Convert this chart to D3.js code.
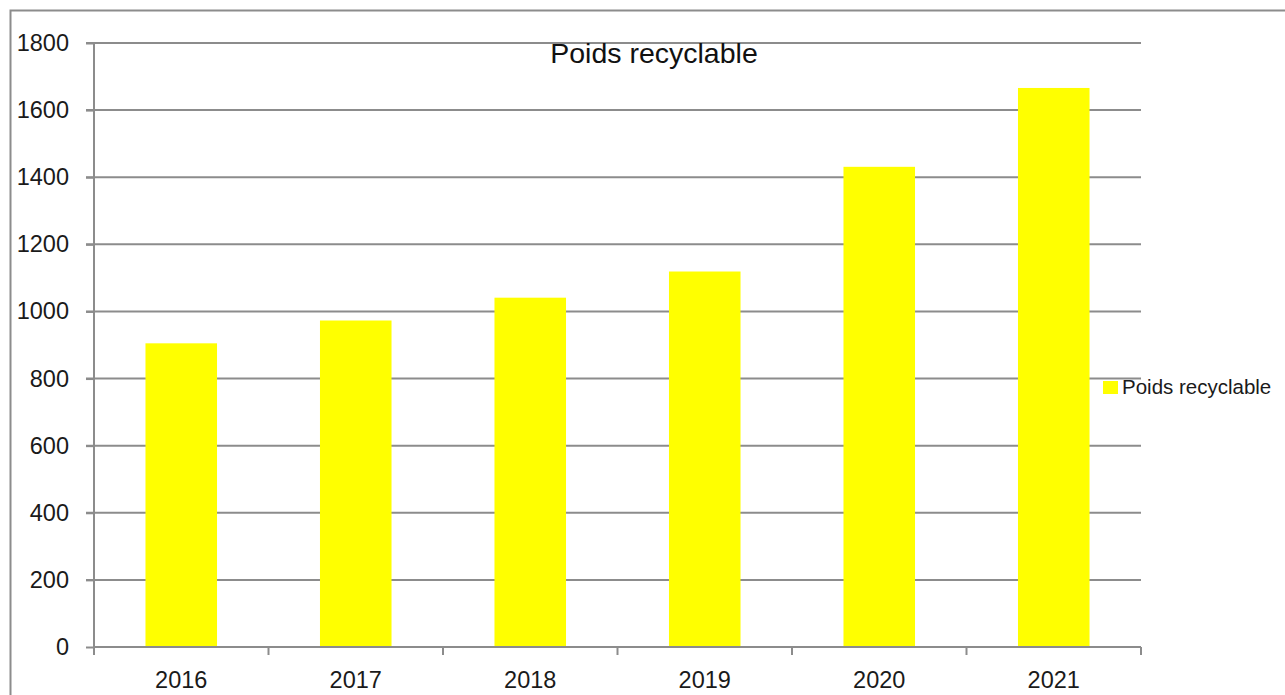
<!DOCTYPE html>
<html><head><meta charset="utf-8">
<script src="https://cdn.jsdelivr.net/npm/d3@7"></script>
<style>body{margin:0;background:#fff;}svg{display:block;}</style>
</head><body>
<svg id="c" width="1285" height="695"></svg>
<script>
const categories = ["2016","2017","2018","2019","2020","2021"];
const values = [905, 973, 1041, 1119, 1431, 1666];
const yTicks = [0,200,400,600,800,1000,1200,1400,1600,1800];
const seriesName = "Poids recyclable";
const titleText = "Poids recyclable";

(function(){
const svg = d3.select("#c");
const font = "'Liberation Sans', Arial, sans-serif";
const grey = "#8c8c8c";
const pL = 94, pR = 1141, pT = 43, pB = 647;

svg.append("rect").attr("x",10.5).attr("y",10.5).attr("width",1290).attr("height",700)
  .attr("fill","none").attr("stroke",grey).attr("stroke-width",2);

const x = d3.scaleBand().domain(categories).range([pL,pR]).paddingInner(0.59).paddingOuter(0.295);
const y = d3.scaleLinear().domain([0,1800]).range([pB,pT]);

// gridlines
svg.append("g").selectAll("line").data(yTicks.filter(d=>d>0)).join("line")
  .attr("x1",pL-8).attr("x2",pR).attr("y1",d=>y(d)).attr("y2",d=>y(d))
  .attr("stroke",grey).attr("stroke-width",2);

// y axis
const ya = svg.append("g").attr("transform",`translate(${pL},0)`)
  .call(d3.axisLeft(y).tickValues(yTicks).tickSize(8).tickPadding(17).tickFormat(d3.format("d")));
ya.select(".domain").attr("stroke",grey).attr("stroke-width",2).attr("d",`M0,${pT}V${pB}`);
ya.selectAll(".tick line").attr("stroke",grey).attr("stroke-width",2);
ya.selectAll("text").attr("font-family",font).attr("font-size",23.5).attr("fill","#1a1a1a");

// bars
svg.append("g").selectAll("rect").data(values).join("rect")
  .attr("x",(d,i)=>x(categories[i])).attr("width",x.bandwidth())
  .attr("y",d=>y(d)).attr("height",d=>y(0)-y(d)).attr("fill","#ffff00");

// x axis
const step = (pR-pL)/categories.length;
const xa = svg.append("g");
xa.append("line").attr("x1",pL).attr("x2",pR).attr("y1",pB).attr("y2",pB)
  .attr("stroke",grey).attr("stroke-width",2);
xa.selectAll("line.t").data(d3.range(categories.length+1)).join("line").attr("class","t")
  .attr("x1",i=>pL+i*step).attr("x2",i=>pL+i*step).attr("y1",pB).attr("y2",pB+8)
  .attr("stroke",grey).attr("stroke-width",2);
xa.selectAll("text").data(categories).join("text")
  .attr("x",d=>x(d)+x.bandwidth()/2).attr("y",688).attr("text-anchor","middle")
  .attr("font-family",font).attr("font-size",23.5).attr("fill","#1a1a1a").text(d=>d);

// title
svg.append("text").attr("x",654).attr("y",63).attr("text-anchor","middle")
  .attr("font-family",font).attr("font-size",28.5).attr("fill","#111").text(titleText);

// legend
svg.append("rect").attr("x",1103).attr("y",381).attr("width",15).attr("height",13).attr("fill","#ffff00");
svg.append("text").attr("x",1122).attr("y",394).attr("font-family",font).attr("font-size",20.5)
  .attr("fill","#1a1a1a").text(seriesName);
})();
</script>
</body></html>
